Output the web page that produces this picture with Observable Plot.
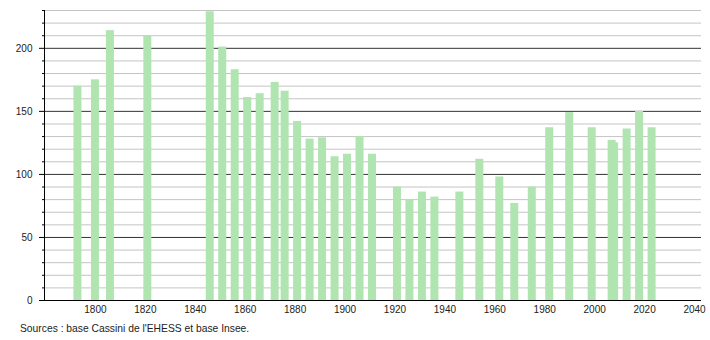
<!DOCTYPE html>
<html>
<head>
<meta charset="utf-8">
<script src="https://cdn.jsdelivr.net/npm/d3@7"></script>
<script src="https://cdn.jsdelivr.net/npm/@observablehq/plot@0.6"></script>
<style>
  body { margin: 0; background: #fff; }
  #chart svg { display: block; }
  .caption { font-family: "Liberation Sans", Arial, sans-serif; font-size: 10.3px; color: #222; padding-left: 20px; height: 22px; line-height: 22px; }
</style>
</head>
<body>
<div id="chart"></div>
<div class="caption">Sources : base Cassini de l'EHESS et base Insee.</div>
<script>
const years = [1793,1800,1806,1821,1846,1851,1856,1861,1866,1872,1876,1881,1886,1891,1896,1901,1906,1911,1921,1926,1931,1936,1946,1954,1962,1968,1975,1982,1990,1999,2007,2008,2013,2018,2023];
const population = [170,175,214,210,229,201,183,161,164,173,166,142,128,129,114,116,130,116,90,80,86,82,86,112,98,77,90,137,149,137,127,125,136,150,137];
const yMajor = [0,50,100,150,200];
const yMinor = [10,20,30,40,60,70,80,90,110,120,130,140,160,170,180,190,210,220,230];
const xTicks = [1800,1820,1840,1860,1880,1900,1920,1940,1960,1980,2000,2020,2040];

const data = years.map((year, i) => ({year, pop: population[i]}));
const halfWidth = 1.6;

const chart = Plot.plot({
  width: 710,
  height: 318,
  marginLeft: 44,
  marginRight: 9,
  marginTop: 10,
  marginBottom: 18,
  style: {fontFamily: "'Liberation Sans', Arial, sans-serif", fontSize: "10px", color: "#222", background: "#fff"},
  x: {domain: [1779.6, 2042.8], label: null},
  y: {domain: [0, 230], label: null},
  marks: [
    Plot.ruleY(yMinor, {stroke: "#c4c4c4", strokeWidth: 1}),
    Plot.ruleY(yMajor.filter(v => v > 0), {stroke: "#333", strokeWidth: 1}),
    Plot.rectY(data, {x1: d => d.year - halfWidth, x2: d => d.year + halfWidth, y: "pop", fill: "#b0e4b0"}),
    Plot.axisY(yMinor, {tickSize: 2, tickFormat: () => "", label: null, stroke: "#000"}),
    Plot.axisY(yMajor, {tickSize: 5, tickPadding: 7, label: null, stroke: "#000"}),
    Plot.frame({anchor: "left", stroke: "#000"}),
    Plot.ruleY([0], {stroke: "#000"}),
    Plot.axisX(xTicks, {tickSize: 0, tickPadding: 5, tickFormat: d => String(d), label: null})
  ]
});
document.getElementById("chart").append(chart);
</script>
</body>
</html>
